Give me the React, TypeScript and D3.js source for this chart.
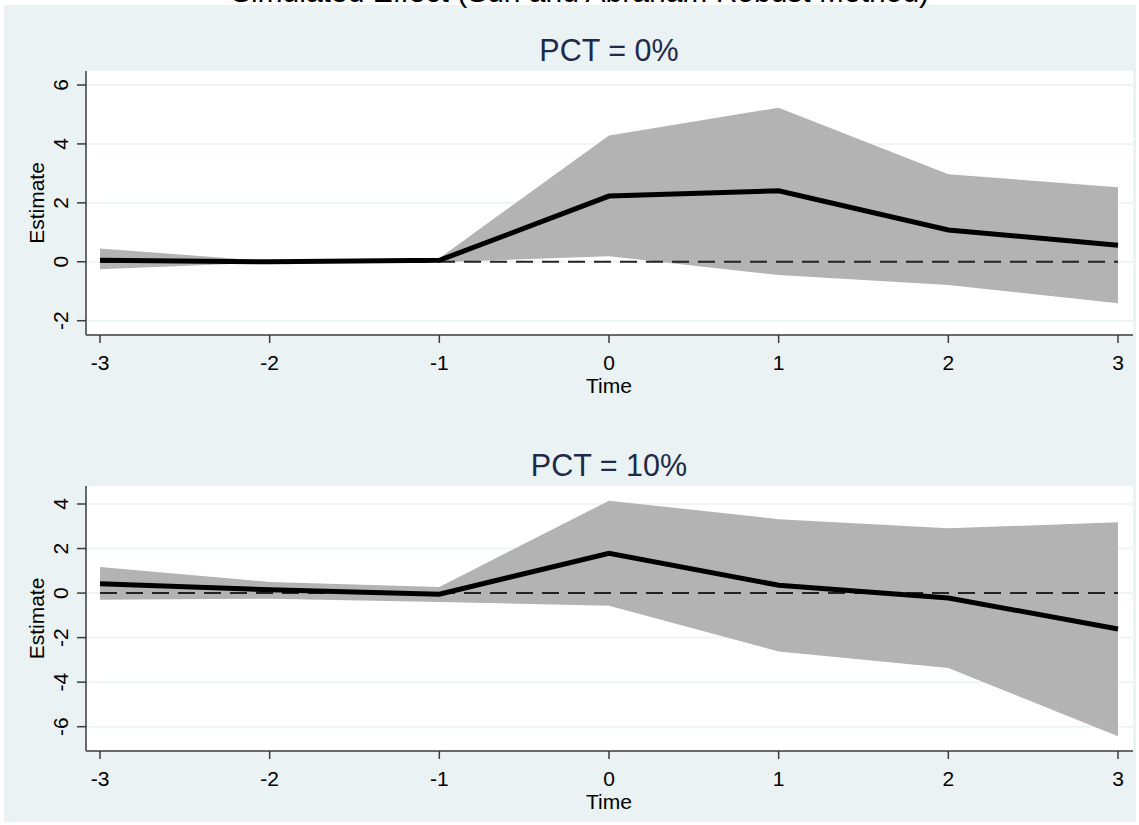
import React from "react";
import * as d3 from "d3";

const times = [-3, -2, -1, 0, 1, 2, 3];
const xTicks = [-3, -2, -1, 0, 1, 2, 3];

const est0 = [0.05, 0.0, 0.05, 2.23, 2.41, 1.08, 0.56];
const upper0 = [0.45, 0.02, 0.12, 4.29, 5.23, 2.97, 2.53];
const lower0 = [-0.25, -0.02, -0.02, 0.19, -0.45, -0.79, -1.41];
const yTicks0 = [-2, 0, 2, 4, 6];

const est10 = [0.42, 0.15, -0.05, 1.79, 0.35, -0.22, -1.61];
const upper10 = [1.17, 0.5, 0.27, 4.15, 3.32, 2.91, 3.18];
const lower10 = [-0.3, -0.25, -0.4, -0.57, -2.62, -3.36, -6.43];
const yTicks10 = [-6, -4, -2, 0, 2, 4];

const mainTitle = "Simulated Effect (Sun and Abraham Robust Method)";
const panelTitles = ["PCT = 0%", "PCT = 10%"];
const xLabel = "Time";
const yLabel = "Estimate";

const FONT = "'Liberation Sans', Arial, sans-serif";
const BG = "#EAF2F3";
const AXIS = "#3a3a3a";

type PanelProps = {
  title: string;
  est: number[];
  upper: number[];
  lower: number[];
  yTicks: number[];
  yDomain: [number, number];
  top: number;
  bottom: number;
  yRange: [number, number];
};

function Panel({ title, est, upper, lower, yTicks, yDomain, top, bottom, yRange }: PanelProps) {
  const left = 86;
  const right = 1133;
  const x = d3.scaleLinear().domain([-3, 3]).range([100, 1118]);
  const y = d3.scaleLinear().domain(yDomain).range(yRange);
  const rows = times.map((t, i) => ({ t, e: est[i], u: upper[i], l: lower[i] }));
  const area = d3
    .area<(typeof rows)[number]>()
    .x((d) => x(d.t))
    .y0((d) => y(d.l))
    .y1((d) => y(d.u));
  const line = d3
    .line<(typeof rows)[number]>()
    .x((d) => x(d.t))
    .y((d) => y(d.e));
  const midY = (top + bottom) / 2;
  return (
    <g>
      <text x={609} y={top - 10} textAnchor="middle" fontFamily={FONT} fontSize={30.5} fill="#1E2A4A">
        {title}
      </text>
      <rect x={left} y={top} width={right - left} height={bottom - top} fill="#ffffff" />
      {yTicks.map((v) => (
        <line key={"g" + v} x1={left} x2={right} y1={y(v)} y2={y(v)} stroke={BG} strokeWidth={1.5} />
      ))}
      <path d={area(rows) || ""} fill="#B3B3B3" />
      <line
        x1={x(-3)}
        x2={x(3)}
        y1={y(0)}
        y2={y(0)}
        stroke="#222"
        strokeWidth={2}
        strokeDasharray="17 9"
      />
      <path d={line(rows) || ""} fill="none" stroke="#000" strokeWidth={5} strokeLinejoin="miter" />
      <line x1={left} x2={left} y1={top} y2={bottom} stroke={AXIS} strokeWidth={1.5} />
      <line x1={left} x2={right} y1={bottom} y2={bottom} stroke={AXIS} strokeWidth={1.5} />
      {yTicks.map((v) => (
        <g key={"y" + v}>
          <line x1={left - 9} x2={left} y1={y(v)} y2={y(v)} stroke={AXIS} strokeWidth={1.5} />
          <text
            transform={`translate(68,${y(v)}) rotate(-90)`}
            textAnchor="middle"
            fontFamily={FONT}
            fontSize={21}
            fill="#000"
          >
            {v}
          </text>
        </g>
      ))}
      {xTicks.map((v) => (
        <g key={"x" + v}>
          <line x1={x(v)} x2={x(v)} y1={bottom} y2={bottom + 8} stroke={AXIS} strokeWidth={1.5} />
          <text x={x(v)} y={bottom + 35} textAnchor="middle" fontFamily={FONT} fontSize={21} fill="#000">
            {v}
          </text>
        </g>
      ))}
      <text x={609} y={bottom + 58} textAnchor="middle" fontFamily={FONT} fontSize={21} fill="#000">
        {xLabel}
      </text>
      <text
        transform={`translate(44,${midY}) rotate(-90)`}
        textAnchor="middle"
        fontFamily={FONT}
        fontSize={21}
        fill="#000"
      >
        {yLabel}
      </text>
    </g>
  );
}

export default function App() {
  return (
    <svg
      width={1139}
      height={825}
      style={{ position: "absolute", left: 0, top: 0, background: "#ffffff" }}
    >
      <rect x={4} y={5} width={1132} height={817} fill={BG} />
      <text x={580} y={2} textAnchor="middle" fontFamily={FONT} fontSize={30} fill="#000">
        {mainTitle}
      </text>
      <Panel
        title={panelTitles[0]}
        est={est0}
        upper={upper0}
        lower={lower0}
        yTicks={yTicks0}
        yDomain={[-2, 6]}
        yRange={[320.7, 85]}
        top={71}
        bottom={335}
      />
      <Panel
        title={panelTitles[1]}
        est={est10}
        upper={upper10}
        lower={lower10}
        yTicks={yTicks10}
        yDomain={[-6, 4]}
        yRange={[726.7, 504]}
        top={486}
        bottom={751}
      />
    </svg>
  );
}
